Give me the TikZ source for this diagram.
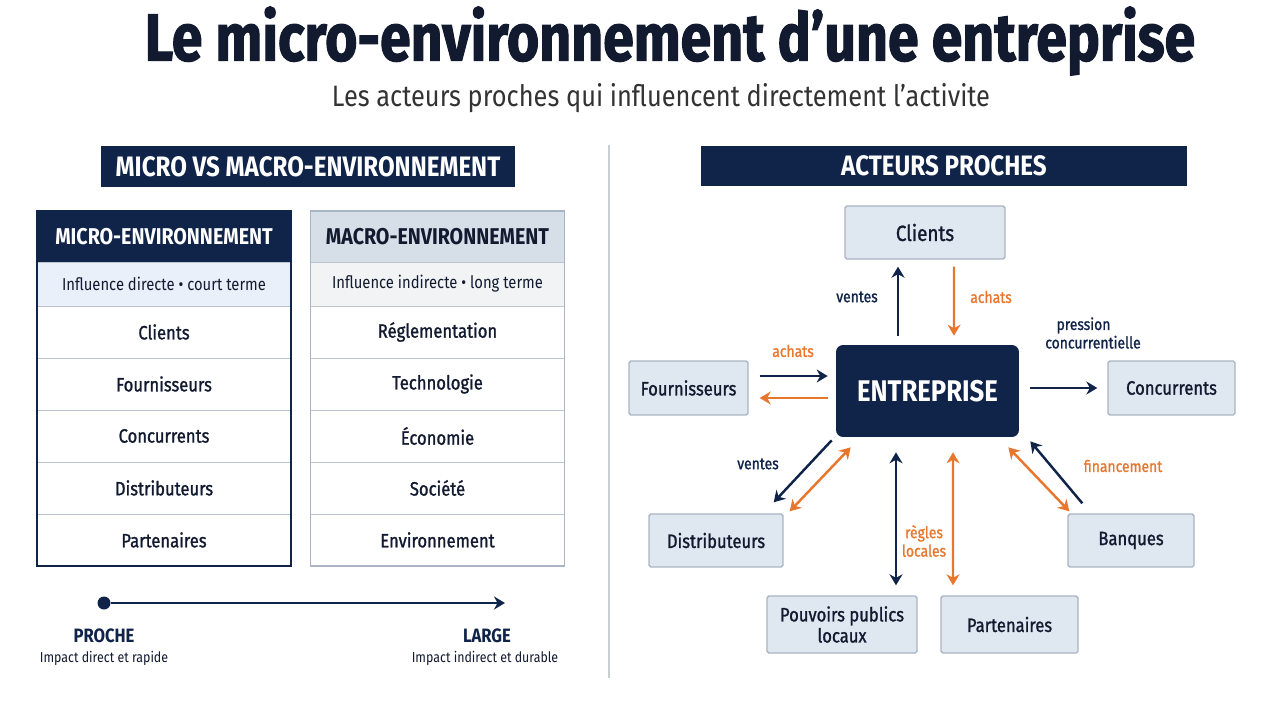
\documentclass[tikz,border=0pt]{standalone}
\usepackage{fontspec}
\setmainfont{Fira Sans}[FakeStretch=0.86]
\newfontfamily\titlefont{Fira Sans}[FakeStretch=0.83,FakeBold=1.6]
\newfontfamily\medfont{Fira Sans}[FakeStretch=0.86,FakeBold=1.2]
\usetikzlibrary{arrows.meta,positioning,calc,fit}
\definecolor{navy}{HTML}{10244A}
\definecolor{ink}{HTML}{121A30}
\definecolor{amber}{HTML}{E8772E}
\definecolor{boxfill}{HTML}{DFE7F0}
\definecolor{boxline}{HTML}{A9B5C2}
\definecolor{paleblue}{HTML}{E9F0FA}
\definecolor{macrohead}{HTML}{D6DEE7}
\definecolor{macrosub}{HTML}{F1F3F5}
\definecolor{rowline}{HTML}{BCC4CE}
\definecolor{divider}{HTML}{C9CED5}
\tikzset{
  bar/.style={fill=navy,text=white,font=\bfseries\fontsize{16}{18}\selectfont,
              minimum height=0.82cm,inner sep=0pt},
  cell/.style={draw=rowline,fill=white,text=ink,minimum width=5.08cm,
               minimum height=1.04cm,outer sep=0pt,inner sep=0pt,
               font=\medfont\fontsize{11}{13}\selectfont},
  subcell/.style={cell,minimum height=0.88cm,font=\fontsize{9.8}{11}\selectfont},
  headcell/.style={cell,minimum height=1.02cm,font=\bfseries\fontsize{13}{15}\selectfont},
  actor/.style={draw=boxline,fill=boxfill,text=ink,align=center,line width=0.8pt,
                rounded corners=1pt,inner sep=0pt,
                font=\medfont\fontsize{11}{12}\selectfont},
  core/.style={fill=navy,text=white,rounded corners=4pt,minimum width=3.66cm,
               minimum height=1.84cm,font=\bfseries\fontsize{17}{19}\selectfont},
  link/.style={-{Stealth[length=2.2mm,width=2.6mm]},line width=1.4pt,draw=navy},
  warmlink/.style={link,draw=amber},
  twoway/.style={{Stealth[length=2.2mm,width=2.6mm]}-{Stealth[length=2.2mm,width=2.6mm]},
                 line width=1.4pt,draw=navy},
  warmtwoway/.style={twoway,draw=amber},
  tag/.style={font=\medfont\fontsize{9.2}{10.5}\selectfont,text=navy,align=center,inner sep=1pt},
  warmtag/.style={tag,text=amber}
}
\begin{document}
\begin{tikzpicture}[x=0.02cm,y=-0.02cm]
  \useasboundingbox[fill=white] (0,0) rectangle (1280,702);

  % title
  \node[text=ink,font=\titlefont\bfseries\fontsize{38}{42}\selectfont] (title) at (670,41)
    {Le micro-environnement d’une entreprise};
  \node[text=black!80,font=\fontsize{16.8}{19}\selectfont] (subtitle) at (661,98)
    {Les acteurs proches qui influencent directement l’activite};

  \draw[divider,line width=1pt] (609,145) -- (609,678);

  % left part: micro vs macro
  \node[bar,minimum width=8.28cm] (leftbar) at (308,166.5) {MICRO VS MACRO-ENVIRONNEMENT};

  \node[headcell,fill=navy,text=white,draw=navy] (mi0) at (164,236.5) {MICRO-ENVIRONNEMENT};
  \node[subcell,fill=paleblue,below=0pt of mi0] (mi1) {Influence directe • court terme};
  \node[cell,below=0pt of mi1] (mi2) {Clients};
  \node[cell,below=0pt of mi2] (mi3) {Fournisseurs};
  \node[cell,below=0pt of mi3] (mi4) {Concurrents};
  \node[cell,below=0pt of mi4] (mi5) {Distributeurs};
  \node[cell,below=0pt of mi5] (mi6) {Partenaires};
  \node[fit=(mi0)(mi6),draw=navy,line width=1.4pt,inner sep=0pt] (microframe) {};

  \node[headcell,fill=macrohead] (ma0) at (437.5,236.5) {MACRO-ENVIRONNEMENT};
  \node[subcell,fill=macrosub,below=0pt of ma0] (ma1) {Influence indirecte • long terme};
  \node[cell,below=0pt of ma1] (ma2) {Réglementation};
  \node[cell,below=0pt of ma2] (ma3) {Technologie};
  \node[cell,below=0pt of ma3] (ma4) {Économie};
  \node[cell,below=0pt of ma4] (ma5) {Société};
  \node[cell,below=0pt of ma5] (ma6) {Environnement};
  \node[fit=(ma0)(ma6),draw=boxline,line width=1pt,inner sep=0pt] (macroframe) {};

  % scale proche -> large
  \node[circle,fill=navy,minimum size=0.26cm,inner sep=0pt] (near) at (104,603) {};
  \coordinate (far) at (505,603);
  \draw[link,line width=1.6pt] (near) -- (far);
  \node[text=navy,font=\bfseries\fontsize{11}{13}\selectfont] (proche) at (104,636) {PROCHE};
  \node[text=ink,font=\fontsize{8.2}{10}\selectfont] (prochetxt) at (104,658) {Impact direct et rapide};
  \node[text=navy,font=\bfseries\fontsize{11}{13}\selectfont] (large) at (487,636) {LARGE};
  \node[text=ink,font=\fontsize{8.2}{10}\selectfont] (largetxt) at (485,658) {Impact indirect et durable};

  % right part: actors
  \node[bar,minimum width=9.72cm] (rightbar) at (944,166) {ACTEURS PROCHES};

  \node[core] (ent) at (927.5,391) {ENTREPRISE};
  \node[actor,minimum width=3.2cm,minimum height=1.06cm,
        font=\medfont\fontsize{12.5}{14}\selectfont] (cli) at (925,232.5) {Clients};
  \node[actor,minimum width=2.38cm,minimum height=1.08cm] (fou) at (688.5,388) {Fournisseurs};
  \node[actor,minimum width=2.54cm,minimum height=1.08cm] (con) at (1171.5,388) {Concurrents};
  \node[actor,minimum width=2.68cm,minimum height=1.06cm] (dis) at (716,540.5) {Distributeurs};
  \node[actor,minimum width=2.52cm,minimum height=1.06cm] (ban) at (1131,540.5) {Banques};
  \node[actor,minimum width=3.0cm,minimum height=1.14cm] (pou) at (842,624.5) {Pouvoirs publics\\locaux};
  \node[actor,minimum width=2.74cm,minimum height=1.14cm] (par) at (1009.5,624.5) {Partenaires};

  \draw[link] ($(ent.north)+(-29.5,-9)$) -- ($(cli.south)+(-27,7)$);
  \draw[warmlink] ($(cli.south)+(29,7)$) -- ($(ent.north)+(26.5,-9)$);
  \draw[link] ($(fou.east)+(11,-12)$) -- ($(ent.west)+(-8,-15)$);
  \draw[warmlink] ($(ent.west)+(-8,7)$) -- ($(fou.east)+(11,10)$);
  \draw[link] ($(ent.east)+(11,-3)$) -- ($(con.west)+(-10,0)$);
  \draw[link] ($(ent.south west)+(-4,3)$) -- ($(dis.north east)+(-10,-11)$);
  \draw[warmtwoway] ($(ent.south west)+(15,10)$) -- ($(dis.north east)+(6,-2)$);
  \draw[twoway] ($(ent.south)+(-31.5,15)$) -- ($(pou.north)+(54,-10)$);
  \draw[warmtwoway] ($(ent.south)+(25.5,15)$) -- ($(par.north)+(-56.5,-10)$);
  \draw[warmtwoway] ($(ent.south east)+(-11,10)$) -- ($(ban.north west)+(2,-2)$);
  \draw[link] ($(ban.north west)+(15,-10)$) -- ($(ent.south east)+(11,4)$);

  \node[tag] (t1) at (857,297) {ventes};
  \node[warmtag] (t2) at (991,297) {achats};
  \node[warmtag] (t3) at (793,351) {achats};
  \node[tag,align=left] (t4) at (1093,333) {\hspace*{0.7em}pression\\concurrentielle};
  \node[tag] (t5) at (758,464) {ventes};
  \node[warmtag] (t6) at (924,541) {règles\\locales};
  \node[warmtag] (t7) at (1123,466) {financement};
\end{tikzpicture}
\end{document}
